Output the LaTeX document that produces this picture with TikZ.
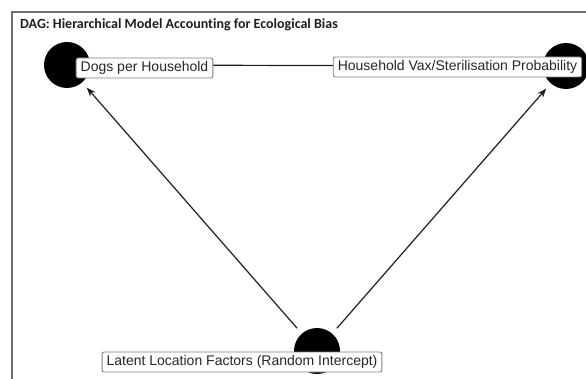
\documentclass[tikz,border=0pt]{standalone}
\usepackage{fontspec}
\setmainfont{Liberation Sans}
\newfontfamily\titlefont[Ligatures=NoCommon]{Carlito}
\usetikzlibrary{arrows.meta}
\definecolor{framegray}{RGB}{110,110,110}
\definecolor{boxgray}{RGB}{130,130,130}
\definecolor{edgeink}{RGB}{30,30,30}
\begin{document}
\begin{tikzpicture}[x=1pt,y=-1pt,
  dagnode/.style={circle,fill=black,draw=none,minimum size=46pt,inner sep=0pt},
  daglabel/.style={draw=boxgray,line width=0.9pt,fill=white,rounded corners=2pt,
    font=\fontsize{14}{16}\selectfont,inner xsep=4.5pt,inner ysep=0pt,
    minimum height=20pt,text=black!85},
  dagedge/.style={draw=edgeink,line width=1.2pt},
  dagarrow/.style={dagedge,-{Stealth[length=9pt,width=7pt]},shorten <=7pt,shorten >=7pt}
]
\useasboundingbox (0,0) rectangle (586,379);
\fill[white] (0,0) rectangle (586,379);
\begin{scope}
\clip (0,0) rectangle (586,379);
% panel frame
\draw[framegray,line width=1.4pt] (12,400) -- (12,12) -- (600,12);
% title
\node[anchor=base west,inner sep=0pt,text=black!88,
  font=\titlefont\bfseries\fontsize{14}{16}\selectfont]
  (title) at (20,29) {DAG: Hierarchical Model Accounting for Ecological Bias};
% nodes
\node[dagnode] (dogs) at (67,65) {};
\node[dagnode] (vax)  at (566,66) {};
\node[dagnode] (lat)  at (317,351) {};
% edges
\draw[dagedge] (dogs) -- (vax);
\draw[dagarrow] (lat) -- (dogs);
\draw[dagarrow] (lat) -- (vax);
% labels
\node[daglabel] (ldogs) at (144.5,68) {Dogs per Household};
\node[daglabel] (lvax)  at (457.5,67) {Household Vax/Sterilisation Probability};
\node[daglabel] (llat)  at (242,362) {Latent Location Factors (Random Intercept)};
\end{scope}
\end{tikzpicture}
\end{document}
